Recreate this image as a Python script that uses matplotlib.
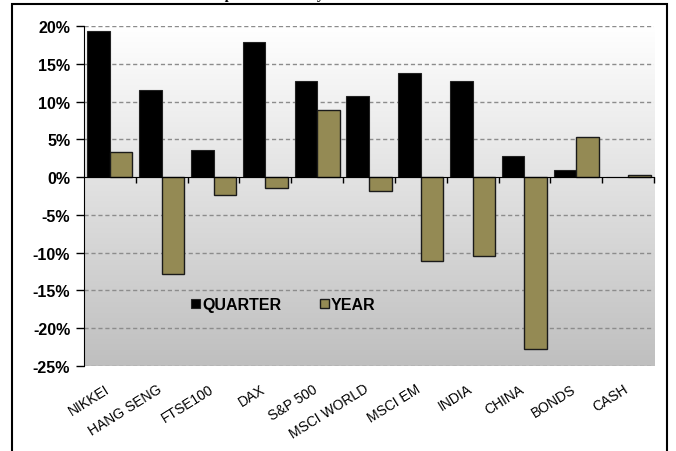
import numpy as np
import matplotlib
matplotlib.use('Agg')
import matplotlib.pyplot as plt
from matplotlib.patches import Rectangle
from matplotlib.colors import LinearSegmentedColormap
import matplotlib.transforms as mtransforms

plt.rcParams['font.family'] = ['Liberation Sans', 'DejaVu Sans']

# data
markets = ['NIKKEI', 'HANG SENG', 'FTSE100', 'DAX', 'S&P 500', 'MSCI WORLD',
           'MSCI EM', 'INDIA', 'CHINA', 'BONDS', 'CASH']
quarter = [19.4, 11.5, 3.6, 17.9, 12.7, 10.8, 13.8, 12.7, 2.8, 0.9, 0.0]
year = [3.35, -12.8, -2.4, -1.5, 8.95, -1.9, -11.1, -10.5, -22.7, 5.25, 0.3]
yticks = [20, 15, 10, 5, 0, -5, -10, -15, -20, -25]

fig = plt.figure(figsize=(6.76, 4.52), dpi=100)
ax = fig.add_axes([0.1243, 0.188, 0.8432, 0.7522])

x = np.arange(len(markets))
w = 0.435
ax.set_xlim(-0.5, len(markets) - 0.5)
ax.set_ylim(-25, 20)

# gradient background
cmap = LinearSegmentedColormap.from_list('bg', ['#ffffff', '#bfbfbf'])
grad = np.linspace(0, 1, 256).reshape(-1, 1)
ax.imshow(grad, cmap=cmap, aspect='auto', extent=[-0.5, len(markets) - 0.5, -25, 20],
          zorder=0, origin='upper')

for t in yticks:
    if t != 0:
        ax.axhline(t, color='#8c8c8c', lw=1, ls=(0, (3, 2)), zorder=1)

ax.bar(x - w / 2, quarter, w, color='black', edgecolor='#222222', lw=0.8,
       label='QUARTER', zorder=3)
ax.bar(x + w / 2, year, w, color='#948A54', edgecolor='#1a1a1a', lw=1,
       label='YEAR', zorder=3)

# zero axis with category boundary ticks
ax.spines['bottom'].set_position(('data', 0))
ax.spines['bottom'].set_zorder(4)
ax.spines['top'].set_visible(False)
ax.spines['right'].set_visible(False)
ax.set_xticks(np.arange(len(markets)) + 0.5)
ax.set_xticklabels([])
ax.tick_params(axis='x', direction='out', length=4, width=1, pad=0)

ax.set_yticks(yticks)
ax.set_yticklabels([f'{t}%' for t in yticks], fontweight='bold', fontsize=11.5)
ax.tick_params(axis='y', direction='out', length=6, width=1, pad=4)

trans = mtransforms.blended_transform_factory(ax.transData, ax.transAxes)
for i, name in enumerate(markets):
    ax.text(i - 0.1, -0.045, name, transform=trans, rotation=32, ha='right', va='top',
            rotation_mode='anchor', fontsize=10)

leg = ax.legend(loc='center', bbox_to_anchor=(0.35, 0.18), ncol=2, frameon=False,
                handlelength=0.55, handleheight=0.55, handletextpad=0.15,
                columnspacing=2.4, prop={'weight': 'bold', 'size': 11.5})

# outer frame and clipped title
fig.patches.append(Rectangle((12 / 676, -0.05), 655 / 676, 1 - 5 / 452 + 0.05,
                             transform=fig.transFigure, fill=False, ec='black', lw=1.5))
fig.text(0.257, 1 + 1 / 452, 'Market performance by asset class', ha='left', va='baseline',
         fontsize=10.5, fontweight='bold', family=['Liberation Serif', 'DejaVu Serif'])

fig.savefig('out.png', dpi=100)
